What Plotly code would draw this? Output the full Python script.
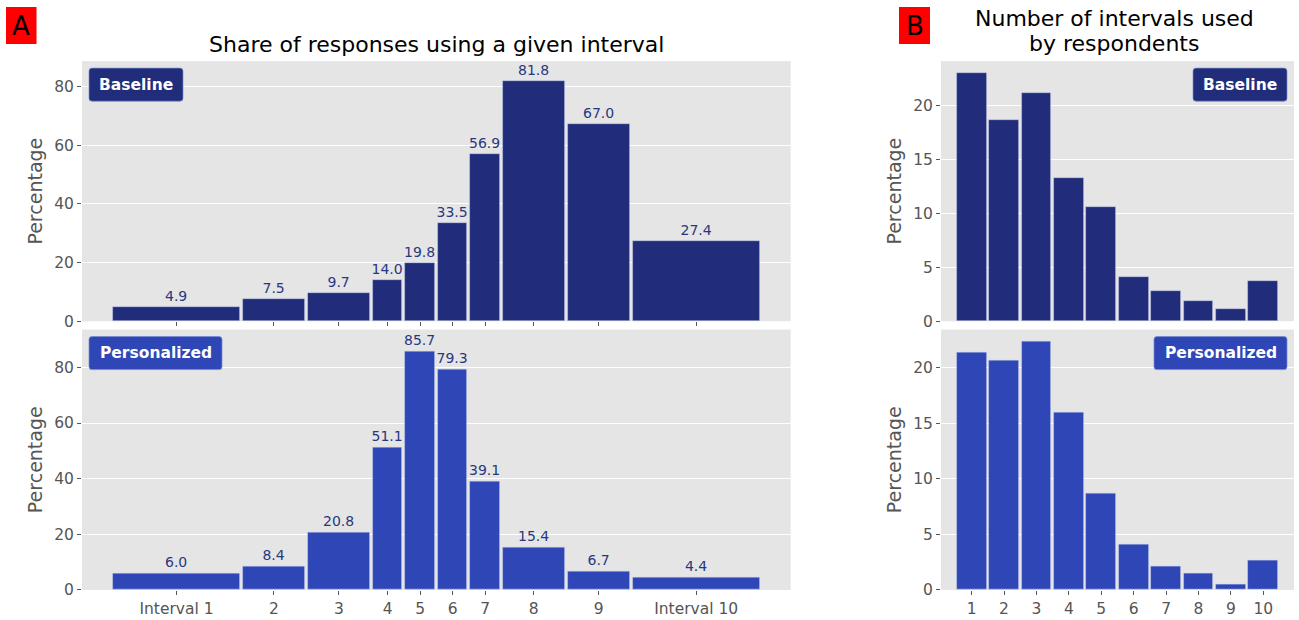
import plotly.graph_objects as go
from itertools import accumulate

# ---------------- data ----------------
interval_labels = ["Interval 1", "2", "3", "4", "5", "6", "7", "8", "9", "Interval 10"]
interval_widths = [4, 2, 2, 1, 1, 1, 1, 2, 2, 4]
baseline_share = [4.9, 7.5, 9.7, 14.0, 19.8, 33.5, 56.9, 81.8, 67.0, 27.4]
personalized_share = [6.0, 8.4, 20.8, 51.1, 85.7, 79.3, 39.1, 15.4, 6.7, 4.4]

n_intervals = list(range(1, 11))
baseline_count = [23.0, 18.6, 21.1, 13.3, 10.6, 4.1, 2.75, 1.85, 1.08, 3.7]
personalized_count = [21.4, 20.7, 22.4, 16.0, 8.7, 4.13, 2.14, 1.47, 0.51, 2.65]

# ---------------- style ----------------
REF_W, REF_H = 1299, 620      # reference picture size (layout positions measured in it)
W, H = 1299, 630              # figure size
FONT = "DejaVu Sans"
C_BASE = "#212d7a"
C_PERS = "#2e46b6"
C_LABEL = "#28387f"
BG = "#e5e5e5"
GREY = "#555555"


def px_x(p):
    return p / REF_W


def px_y(p):
    return 1 - p / REF_H


edges = [0] + list(accumulate(interval_widths))
centers = [(edges[i] + edges[i + 1]) / 2 for i in range(len(interval_widths))]
bar_w = [w - 0.1 for w in interval_widths]

fig = go.Figure()


def add_share(vals, color, xa, ya):
    fig.add_trace(go.Bar(
        x=centers, y=vals, width=bar_w, xaxis=xa, yaxis=ya,
        marker=dict(color=color, line=dict(color="rgba(200,210,240,0.6)", width=0.8)),
        text=[f"{v:.1f}" for v in vals], textposition="outside",
        textfont=dict(family=FONT, size=14, color=C_LABEL),
        constraintext="none", cliponaxis=False, showlegend=False,
    ))


def add_count(vals, color, xa, ya):
    fig.add_trace(go.Bar(
        x=n_intervals, y=vals, width=0.92, xaxis=xa, yaxis=ya,
        marker=dict(color=color, line=dict(color="rgba(200,210,240,0.6)", width=0.8)),
        showlegend=False,
    ))


add_share(baseline_share, C_BASE, "x", "y")
add_share(personalized_share, C_PERS, "x2", "y2")
add_count(baseline_count, C_BASE, "x3", "y3")
add_count(personalized_count, C_PERS, "x4", "y4")

dom_A = [px_x(82), px_x(790.7)]
dom_B = [px_x(941), px_x(1294)]
dom_top = [px_y(320.7), px_y(61)]
dom_bot = [px_y(589), px_y(329)]

tickfont = dict(family=FONT, size=15.5, color=GREY)
ytitle = dict(text="Percentage", font=dict(family=FONT, size=19, color=GREY), standoff=6)

common_y = dict(showgrid=True, gridcolor="white", gridwidth=1.3, zeroline=False,
                ticks="outside", ticklen=4, tickcolor=GREY, tickfont=tickfont,
                showline=False, fixedrange=True)
common_x = dict(showgrid=False, zeroline=False, showline=False, tickfont=tickfont)

fig.update_layout(
    width=W, height=H, margin=dict(l=0, r=0, t=0, b=0),
    paper_bgcolor="white", plot_bgcolor=BG, bargap=0,
    font=dict(family=FONT, color=GREY),
    xaxis=dict(**common_x, domain=dom_A, anchor="y", range=[-0.91, 20.91],
               tickvals=centers, ticktext=interval_labels, showticklabels=False,
               ticks="outside", ticklen=4, tickcolor=GREY),
    yaxis=dict(**common_y, domain=dom_top, anchor="x", range=[0, 88.6],
               tickvals=[0, 20, 40, 60, 80], title=ytitle),
    xaxis2=dict(**common_x, domain=dom_A, anchor="y2", range=[-0.91, 20.91],
                tickvals=centers, ticktext=interval_labels,
                ticks="outside", ticklen=4, tickcolor=GREY),
    yaxis2=dict(**common_y, domain=dom_bot, anchor="x2", range=[0, 93.6],
                tickvals=[0, 20, 40, 60, 80], title=ytitle),
    xaxis3=dict(**common_x, domain=dom_B, anchor="y3", range=[0.055, 10.945],
                showticklabels=False, ticks=""),
    yaxis3=dict(**common_y, domain=dom_top, anchor="x3", range=[0, 24.1],
                tickvals=[0, 5, 10, 15, 20], title=ytitle),
    xaxis4=dict(**common_x, domain=dom_B, anchor="y4", range=[0.055, 10.945],
                tickvals=n_intervals, ticks="outside", ticklen=4, tickcolor=GREY),
    yaxis4=dict(**common_y, domain=dom_bot, anchor="x4", range=[0, 23.45],
                tickvals=[0, 5, 10, 15, 20], title=ytitle),
)


def rounded_box(x0, y0, x1, y1, color, r=3):
    X0, X1 = px_x(x0), px_x(x1)
    Y0, Y1 = px_y(y0), px_y(y1)
    rx, ry = r / W, r / H
    path = (f"M {X0 + rx},{Y0} L {X1 - rx},{Y0} Q {X1},{Y0} {X1},{Y0 - ry} "
            f"L {X1},{Y1 + ry} Q {X1},{Y1} {X1 - rx},{Y1} L {X0 + rx},{Y1} "
            f"Q {X0},{Y1} {X0},{Y1 + ry} L {X0},{Y0 - ry} Q {X0},{Y0} {X0 + rx},{Y0} Z")
    fig.add_shape(type="path", path=path, xref="paper", yref="paper",
                  fillcolor=color, line=dict(color="rgba(120,140,210,0.7)", width=1),
                  layer="above")


def panel_tag(x0, y0, x1, y1, text, color):
    rounded_box(x0, y0, x1, y1, color)
    fig.add_annotation(x=px_x((x0 + x1) / 2), y=px_y((y0 + y1) / 2), xref="paper", yref="paper",
                       text=f"<b>{text}</b>", showarrow=False,
                       font=dict(family=FONT, size=15.5, color="white"),
                       xanchor="center", yanchor="middle")


panel_tag(89, 68, 183, 101, "Baseline", C_BASE)
panel_tag(89, 336, 222, 369, "Personalized", C_PERS)
panel_tag(1193, 68, 1287, 101, "Baseline", C_BASE)
panel_tag(1154, 336, 1287, 369, "Personalized", C_PERS)

# panel letters
for (x0, x1, letter) in [(6, 36.5, "A"), (899, 930, "B")]:
    fig.add_shape(type="rect", xref="paper", yref="paper",
                  x0=px_x(x0), x1=px_x(x1), y0=px_y(44), y1=px_y(7),
                  fillcolor="red", line=dict(width=0))
    fig.add_annotation(x=px_x((x0 + x1) / 2), y=px_y(26), xref="paper", yref="paper",
                       text=letter, showarrow=False,
                       font=dict(family=FONT, size=26, color="black"),
                       xanchor="center", yanchor="middle")

# titles
title_font = dict(family=FONT, size=22, color="black")
fig.add_annotation(x=(dom_A[0] + dom_A[1]) / 2, y=px_y(44), xref="paper", yref="paper",
                   text="Share of responses using a given interval", showarrow=False,
                   font=title_font, xanchor="center", yanchor="middle")
fig.add_annotation(x=px_x(1114), y=px_y(18), xref="paper", yref="paper",
                   text="Number of intervals used", showarrow=False,
                   font=title_font, xanchor="center", yanchor="middle")
fig.add_annotation(x=px_x(1114), y=px_y(43), xref="paper", yref="paper",
                   text="by respondents", showarrow=False,
                   font=title_font, xanchor="center", yanchor="middle")

fig.write_html(
    "out.html",
    config={"displayModeBar": False},
    post_script="document.documentElement.style.overflow='hidden';"
                "document.body.style.margin='0';document.body.style.overflow='hidden';",
)
